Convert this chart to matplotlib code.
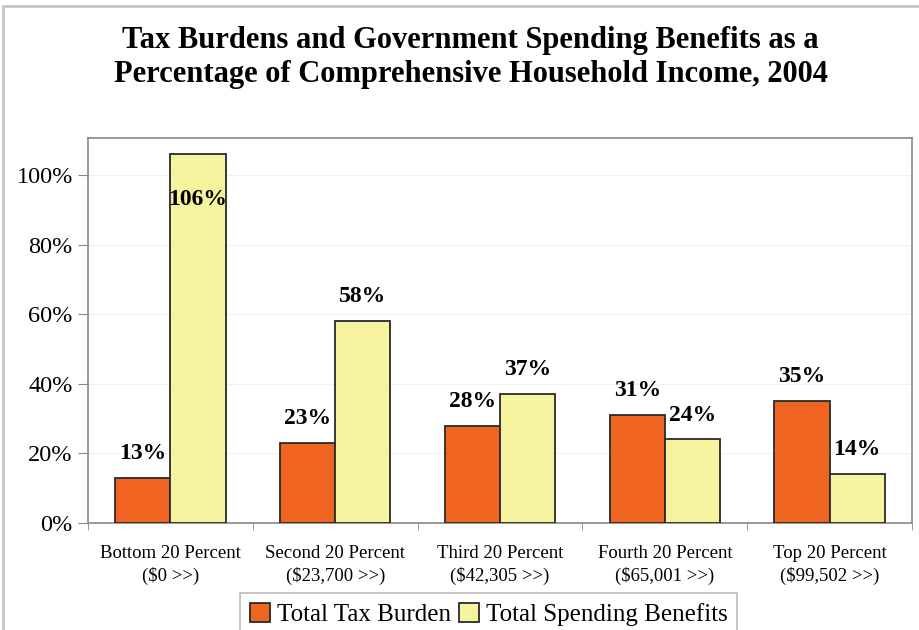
import numpy as np
import matplotlib.pyplot as plt
from matplotlib.patches import Rectangle

categories = ["Bottom 20 Percent\n($0 >>)", "Second 20 Percent\n($23,700 >>)",
              "Third 20 Percent\n($42,305 >>)", "Fourth 20 Percent\n($65,001 >>)",
              "Top 20 Percent\n($99,502 >>)"]
tax_burden = [13, 23, 28, 31, 35]
spending_benefits = [106, 58, 37, 24, 14]

plt.rcParams['font.family'] = ['Liberation Serif', 'DejaVu Serif']

dpi = 100
fig = plt.figure(figsize=(919 / dpi, 630 / dpi), dpi=dpi)
fig.patches.append(Rectangle((0.003, -0.01), 1.2, 1.0, transform=fig.transFigure,
                             fill=False, edgecolor='#c8c8c8', linewidth=2, zorder=-1))

ax = fig.add_axes([0.0958, 0.1698, 0.8966, 0.6112])

orange = '#EF6420'
yellow = '#F7F29E'
x = np.arange(len(categories))
w = 0.335
ax.bar(x - w / 2, tax_burden, w, color=orange, edgecolor='#2a2a2a', linewidth=1.3,
       label='Total Tax Burden', zorder=3)
ax.bar(x + w / 2, spending_benefits, w, color=yellow, edgecolor='#2a2a2a', linewidth=1.3,
       label='Total Spending Benefits', zorder=3)

ymax = 110.6
for i, v in enumerate(tax_burden):
    ax.text(i - w / 2, v + 7, f"{v}%", ha='center', va='center', fontsize=17,
            fontweight='bold')
for i, v in enumerate(spending_benefits):
    if v + 10 > ymax:
        # no room above the tallest bar, so the label sits inside it
        ax.text(i + w / 2, v - 10, f"{v}%", ha='center', va='top', fontsize=17,
                fontweight='bold')
    else:
        ax.text(i + w / 2, v + 7, f"{v}%", ha='center', va='center', fontsize=17,
                fontweight='bold')

ax.set_xlim(-0.5, len(categories) - 0.5)
ax.set_ylim(0, ymax)
ax.set_yticks(np.arange(0, 101, 20))
ax.set_yticklabels([f"{t}%" for t in range(0, 101, 20)], fontsize=17.5)
ax.set_xticks(x)
ax.set_xticklabels(categories, fontsize=13.5, linespacing=1.35)
ax.set_xticks(np.arange(-0.5, len(categories), 1), minor=True)
ax.tick_params(axis='x', which='major', length=0, pad=16)
ax.tick_params(axis='x', which='minor', length=5, color='#888888')
ax.tick_params(axis='y', length=7, color='#888888', pad=4)
ax.grid(axis='y', color='#f0f0f0', linewidth=0.8, zorder=0)
for s in ax.spines.values():
    s.set_color('#888888')
    s.set_linewidth(1.2)

fig.text(0.512, 0.909, "Tax Burdens and Government Spending Benefits as a\n"
         "Percentage of Comprehensive Household Income, 2004",
         ha='center', va='center', fontsize=22, fontweight='bold', linespacing=1.25)

leg = fig.legend(loc='lower center', bbox_to_anchor=(0.532, -0.03), ncol=2,
                 fontsize=18, frameon=True, fancybox=False, edgecolor='#aaaaaa',
                 handlelength=0.8, handleheight=0.8, handletextpad=0.25,
                 columnspacing=0.35, borderpad=0.4)
leg.get_frame().set_linewidth(1.2)

fig.savefig('out.png', dpi=dpi)
